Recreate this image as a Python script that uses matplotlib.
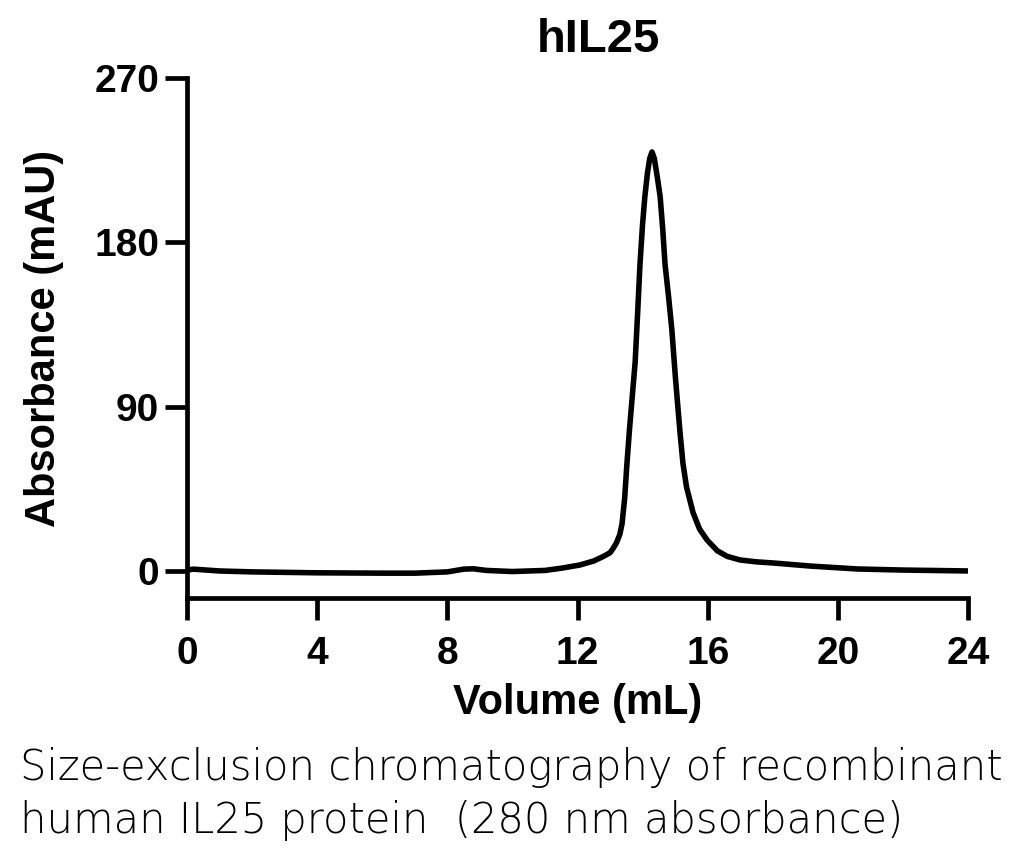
import matplotlib.pyplot as plt

# chromatogram trace (volume in mL, absorbance in mAU)
volume = [0.0, 0.2, 1.0, 2.0, 4.0, 6.0, 7.0, 8.0, 8.5, 8.8, 9.2, 10.0, 11.0, 11.5,
          12.08, 12.5, 12.8, 13.0, 13.1, 13.2, 13.3, 13.37, 13.45, 13.52, 13.6,
          13.68, 13.77, 13.85, 13.92, 14.0, 14.07, 14.15, 14.22, 14.29, 14.36,
          14.45, 14.54, 14.62, 14.69, 14.8, 14.9, 15.0, 15.06, 15.15, 15.24, 15.35,
          15.55, 15.75, 15.98, 16.3, 16.6, 17.0, 17.5, 18.0, 19.15, 20.6, 22.0, 24.05]
absorbance = [0.5, 1.0, 0.0, -0.5, -1.0, -1.2, -1.2, -0.5, 1.0, 1.2, 0.3, -0.3, 0.3, 1.5,
              3.3, 5.5, 8.0, 10.0, 12.5, 15.5, 20.0, 26.0, 40.0, 59.0, 78.0,
              95.0, 114.0, 142.0, 168.0, 190.0, 205.0, 218.0, 226.0, 229.5, 226.0,
              216.0, 205.0, 187.0, 168.0, 150.0, 132.0, 108.0, 95.0, 76.0, 59.0, 46.0,
              32.0, 23.0, 17.0, 11.0, 8.0, 6.0, 5.0, 4.4, 2.7, 1.1, 0.5, 0.0]

x_ticks = [0, 4, 8, 12, 16, 20, 24]
y_ticks = [0, 90, 180, 270]

plt.rcParams["font.family"] = ["Liberation Sans", "DejaVu Sans"]

fig = plt.figure(figsize=(10.24, 8.66), dpi=100)
W, H = 1024, 866
ax = fig.add_axes([187 / W, 1 - 598 / H, (968 - 187) / W, (598 - 78) / H])

ax.plot(volume, absorbance, color="black", lw=4.0, solid_joinstyle="round")

ax.set_xlim(0, 24)
ax.set_ylim(-14.8, 270)
ax.set_xticks(x_ticks)
ax.set_yticks(y_ticks)
for s in ("top", "right"):
    ax.spines[s].set_visible(False)
for s in ("left", "bottom"):
    ax.spines[s].set_linewidth(3.4)
ax.tick_params(axis="both", length=16, width=3.4, labelsize=28)
ax.tick_params(axis="x", pad=11)
ax.tick_params(axis="y", pad=4)
for lab in ax.get_xticklabels() + ax.get_yticklabels():
    lab.set_fontweight("bold")

ax.set_xlabel("Volume (mL)", fontsize=30, fontweight="bold", labelpad=8)
ax.set_ylabel("Absorbance (mAU)", fontsize=30, fontweight="bold", labelpad=22)

fig.text(598 / W, 1 - 40 / H, "hIL25", fontsize=34, fontweight="bold",
         ha="center", va="center")

cap_font = ["DejaVu Sans"]
fig.text(20 / W, 1 - 780 / H, "Size-exclusion chromatography of recombinant",
         fontsize=30, family=cap_font, fontweight="light",
         ha="left", va="baseline")
fig.text(20 / W, 1 - 833 / H, "human IL25 protein  (280 nm absorbance)",
         fontsize=30, family=cap_font, fontweight="light",
         ha="left", va="baseline")

fig.savefig("out.png", dpi=100)
